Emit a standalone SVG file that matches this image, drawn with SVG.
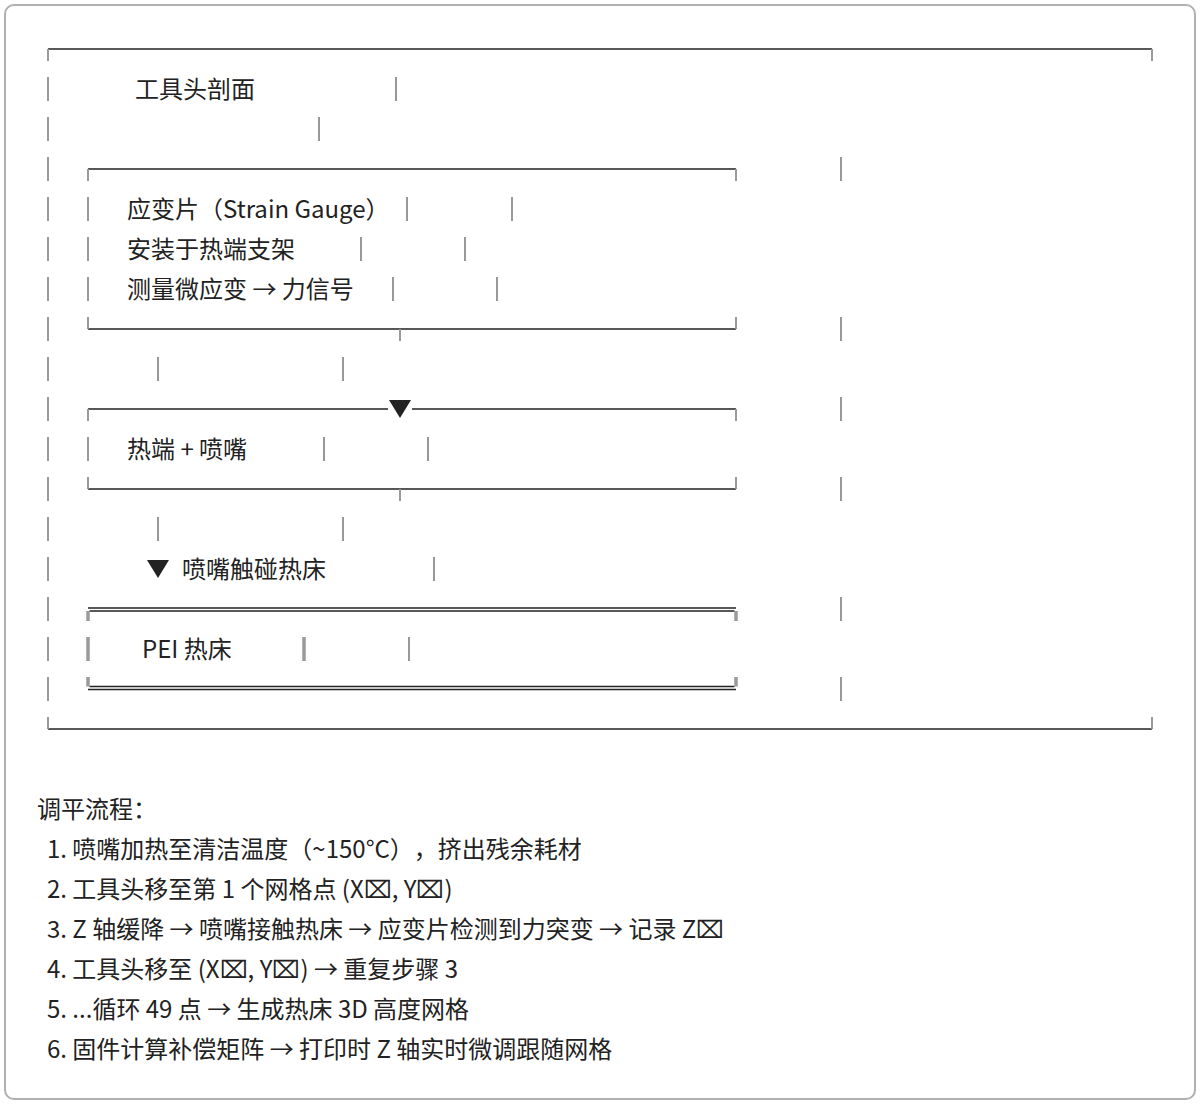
<svg xmlns="http://www.w3.org/2000/svg" width="1200" height="1104" viewBox="0 0 1200 1104">
<style>
  .t { font-family: "Noto Sans CJK SC", "Noto Sans", sans-serif; fill: #222; text-spacing-trim: space-all; }
  .d { font-size: 24px; }
  .n { font-size: 24px; }
  .h { stroke: #222; stroke-width: 1.3; fill: none; }
  .v { stroke: #999; stroke-width: 2; fill: none; }
  .vv { stroke: #999; stroke-width: 3.5; fill: none; }
  .ah { fill: #222; }
</style>
<rect x="5" y="5" width="1190" height="1094" rx="9" fill="#fff" stroke="#b0b0b0" stroke-width="2"/>

<g id="toolhead">
  <path class="h" d="M48 49 H1152"/>
  <path class="v" d="M48 49 V61 M1152 49 V61"/>
  <path class="v" d="M48 77 V101 M48 117 V141 M48 157 V181 M48 197 V221 M48 237 V261 M48 277 V301 M48 317 V341 M48 357 V381 M48 397 V421 M48 437 V461 M48 477 V501 M48 517 V541 M48 557 V581 M48 597 V621 M48 637 V661 M48 677 V701"/>
  <path class="v" d="M841 157 V181 M841 317 V341 M841 397 V421 M841 477 V501 M841 597 V621 M841 677 V701"/>
  <path class="v" d="M396 77 V101 M319 117 V141"/>
  <path class="h" d="M48 729 H1152"/>
  <path class="v" d="M48 717 V729 M1152 717 V729"/>
  <text class="t d" x="135" y="98">工具头剖面</text>
</g>

<g id="strain-gauge">
  <path class="h" d="M88 169 H736 M88 329 H736"/>
  <path class="v" d="M88 169 V181 M736 169 V181 M88 317 V329 M736 317 V329"/>
  <path class="v" d="M88 197 V221 M88 237 V261 M88 277 V301"/>
  <path class="v" d="M407 197 V221 M512 197 V221 M361 237 V261 M465 237 V261 M393 277 V301 M497 277 V301"/>
  <text class="t d" x="127" y="218">应变片（Strain Gauge）</text>
  <text class="t d" x="127" y="258">安装于热端支架</text>
  <text class="t d" x="127" y="298">测量微应变 → 力信号</text>
</g>

<g id="hotend">
  <path class="h" d="M88 409 H388 M412 409 H736 M88 489 H736"/>
  <path class="v" d="M88 409 V421 M736 409 V421 M88 477 V489 M736 477 V489"/>
  <path class="v" d="M88 437 V461 M324 437 V461 M428 437 V461"/>
  <text class="t d" x="127" y="458">热端 + 喷嘴</text>
</g>

<g id="contact-label">
  <path class="v" d="M434 557 V581"/>
  <text class="t d" x="182" y="578">喷嘴触碰热床</text>
</g>

<g id="pei-bed">
  <path class="h" d="M88 608 H736 M89.5 611 H734.5 M89.5 686.5 H734.5 M88 689.5 H736"/>
  <path class="vv" d="M88 611 V621 M736 611 V621 M88 677 V686.5 M736 677 V686.5"/>
  <path class="vv" d="M88 637 V661 M304 637 V661"/>
  <path class="v" d="M409 637 V661"/>
  <text class="t d" x="142" y="658">PEI 热床</text>
</g>

<g id="connectors">
  <path class="v" d="M400 329 V341 M400 489 V501"/>
  <path class="v" d="M158 357 V381 M343 357 V381 M158 517 V541 M343 517 V541"/>
  <polygon class="ah" points="389,400 411,400 400,418"/>
  <polygon class="ah" points="147,560 169,560 158,578"/>
</g>

<g id="notes">
  <text class="t n" x="37" y="818">调平流程：</text>
  <text class="t n" x="47" y="858">1. 喷嘴加热至清洁温度（~150°C），挤出残余耗材</text>
  <text class="t n" x="47" y="898">2. 工具头移至第 1 个网格点 (X⌧, Y⌧)</text>
  <text class="t n" x="47" y="938">3. Z 轴缓降 → 喷嘴接触热床 → 应变片检测到力突变 → 记录 Z⌧</text>
  <text class="t n" x="47" y="978">4. 工具头移至 (X⌧, Y⌧) → 重复步骤 3</text>
  <text class="t n" x="47" y="1018">5. ...循环 49 点 → 生成热床 3D 高度网格</text>
  <text class="t n" x="47" y="1058">6. 固件计算补偿矩阵 → 打印时 Z 轴实时微调跟随网格</text>
</g>
</svg>
